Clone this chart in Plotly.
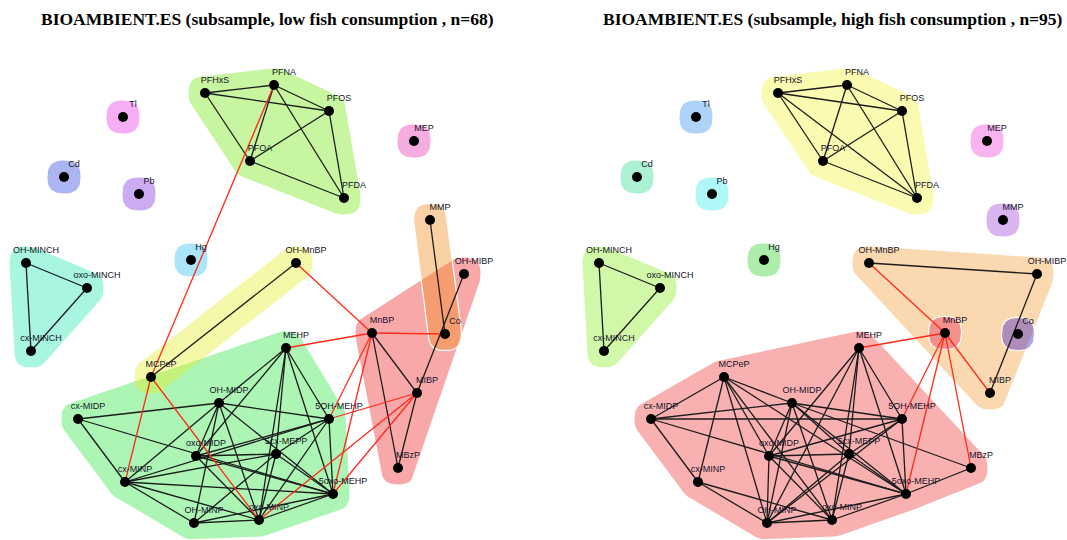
import numpy as np
import plotly.graph_objects as go

# ---------------------------------------------------------------------------
# Network layout (shared by both panels, in layout units)
# ---------------------------------------------------------------------------
nodes = ["PFHxS", "PFNA", "PFOS", "PFOA", "PFDA", "Tl", "MEP", "Cd", "Pb", "MMP",
         "Hg", "OH-MnBP", "OH-MIBP", "OH-MINCH", "oxo-MINCH", "cx-MINCH", "MnBP",
         "Co", "MEHP", "MCPeP", "MIBP", "OH-MIDP", "cx-MIDP", "5OH-MEHP",
         "oxo-MIDP", "5cx-MEPP", "MBzP", "cx-MINP", "5oxo-MEHP", "OH-MINP",
         "oxo-MINP"]
layout_x = [205, 274, 329, 250, 344, 123, 414, 64, 139, 430,
            191, 296, 464, 26, 87, 31, 372,
            445, 286, 151, 417, 219, 78, 329,
            196, 276, 398, 125, 333, 194,
            259]
layout_y = [93, 85, 111, 161, 198, 117, 141, 177, 194, 220,
            260, 263, 274, 263, 288, 351, 333,
            334, 348, 377, 393, 403, 419, 419,
            456, 454, 468, 482, 494, 523,
            520]

titles = ["BIOAMBIENT.ES (subsample, low fish consumption , n=68)",
          "BIOAMBIENT.ES (subsample, high fish consumption , n=95)"]

PFAS = ["PFHxS", "PFNA", "PFOS", "PFOA", "PFDA"]
MINCH = ["OH-MINCH", "oxo-MINCH", "cx-MINCH"]

# ---------------------------------------------------------------------------
# Low fish consumption network
# ---------------------------------------------------------------------------
low_pos_edges = [
    ("PFHxS", "PFNA"), ("PFHxS", "PFOS"), ("PFHxS", "PFOA"), ("PFNA", "PFOS"),
    ("PFNA", "PFOA"), ("PFNA", "PFDA"), ("PFOS", "PFOA"), ("PFOS", "PFDA"),
    ("PFOA", "PFDA"),
    ("OH-MINCH", "oxo-MINCH"), ("OH-MINCH", "cx-MINCH"), ("oxo-MINCH", "cx-MINCH"),
    ("OH-MnBP", "MCPeP"), ("MMP", "Co"), ("OH-MIBP", "MIBP"),
    ("MnBP", "MIBP"), ("MnBP", "MBzP"), ("MIBP", "MBzP"),
    ("MEHP", "OH-MIDP"), ("MEHP", "oxo-MIDP"), ("MEHP", "5cx-MEPP"),
    ("MEHP", "oxo-MINP"), ("MEHP", "5oxo-MEHP"), ("MEHP", "5OH-MEHP"),
    ("OH-MIDP", "cx-MIDP"), ("OH-MIDP", "cx-MINP"), ("OH-MIDP", "oxo-MIDP"),
    ("OH-MIDP", "5OH-MEHP"), ("OH-MIDP", "5oxo-MEHP"), ("OH-MIDP", "OH-MINP"),
    ("OH-MIDP", "oxo-MINP"),
    ("cx-MIDP", "cx-MINP"), ("cx-MIDP", "5oxo-MEHP"),
    ("5OH-MEHP", "oxo-MIDP"), ("5OH-MEHP", "cx-MINP"), ("5OH-MEHP", "5cx-MEPP"),
    ("5OH-MEHP", "5oxo-MEHP"), ("5OH-MEHP", "oxo-MINP"),
    ("5cx-MEPP", "oxo-MIDP"), ("5cx-MEPP", "cx-MINP"), ("5cx-MEPP", "5oxo-MEHP"),
    ("5cx-MEPP", "oxo-MINP"), ("5cx-MEPP", "OH-MINP"),
    ("5oxo-MEHP", "cx-MINP"), ("5oxo-MEHP", "oxo-MIDP"), ("5oxo-MEHP", "oxo-MINP"),
    ("5oxo-MEHP", "OH-MINP"),
    ("oxo-MINP", "OH-MINP"), ("oxo-MINP", "cx-MINP"), ("oxo-MINP", "oxo-MIDP"),
    ("OH-MINP", "cx-MINP"),
]
low_neg_edges = [
    ("PFNA", "MCPeP"), ("OH-MnBP", "MnBP"), ("MnBP", "MEHP"), ("MnBP", "Co"),
    ("MnBP", "5OH-MEHP"), ("MnBP", "5oxo-MEHP"), ("MIBP", "5OH-MEHP"),
    ("MIBP", "5oxo-MEHP"), ("MIBP", "oxo-MINP"), ("MCPeP", "cx-MINP"),
    ("MCPeP", "oxo-MINP"),
]
low_groups = [
    (["MEHP", "OH-MIDP", "cx-MIDP", "5OH-MEHP", "oxo-MIDP", "5cx-MEPP", "cx-MINP",
      "5oxo-MEHP", "OH-MINP", "oxo-MINP"], "rgba(47,230,67,0.4)", None),
    (["OH-MnBP", "MCPeP"], "rgba(230,237,37,0.4)", None),
    (["OH-MIBP", "MnBP", "MIBP", "MBzP"], "rgba(237,37,37,0.4)", None),
    (["MMP", "Co"], "rgba(240,140,30,0.4)", "white"),
    (PFAS, "rgba(117,230,17,0.4)", None),
    (MINCH, "rgba(37,230,177,0.4)", None),
    (["Tl"], "rgba(230,43,230,0.38)", None),
    (["MEP"], "rgba(230,37,167,0.38)", None),
    (["Cd"], "rgba(37,57,217,0.38)", None),
    (["Pb"], "rgba(117,37,217,0.38)", None),
    (["Hg"], "rgba(37,187,237,0.38)", None),
]

# ---------------------------------------------------------------------------
# High fish consumption network
# ---------------------------------------------------------------------------
high_pos_edges = [
    ("PFHxS", "PFNA"), ("PFHxS", "PFOS"), ("PFHxS", "PFOA"), ("PFHxS", "PFDA"),
    ("PFNA", "PFOS"), ("PFNA", "PFOA"), ("PFNA", "PFDA"), ("PFOS", "PFOA"),
    ("PFOS", "PFDA"), ("PFOA", "PFDA"),
    ("OH-MINCH", "oxo-MINCH"), ("OH-MINCH", "cx-MINCH"), ("oxo-MINCH", "cx-MINCH"),
    ("OH-MnBP", "OH-MIBP"), ("OH-MIBP", "MIBP"),
    ("MCPeP", "cx-MIDP"), ("MCPeP", "cx-MINP"), ("MCPeP", "OH-MINP"),
    ("MCPeP", "oxo-MIDP"), ("MCPeP", "oxo-MINP"), ("MCPeP", "5oxo-MEHP"),
    ("MCPeP", "OH-MIDP"),
    ("cx-MIDP", "OH-MIDP"), ("cx-MIDP", "5OH-MEHP"), ("cx-MIDP", "5oxo-MEHP"),
    ("cx-MIDP", "cx-MINP"),
    ("cx-MINP", "OH-MINP"), ("cx-MINP", "oxo-MINP"),
    ("OH-MIDP", "oxo-MIDP"), ("OH-MIDP", "OH-MINP"), ("OH-MIDP", "oxo-MINP"),
    ("OH-MIDP", "5cx-MEPP"), ("OH-MIDP", "5OH-MEHP"), ("OH-MIDP", "5oxo-MEHP"),
    ("OH-MIDP", "MBzP"),
    ("oxo-MIDP", "5OH-MEHP"), ("oxo-MIDP", "5cx-MEPP"), ("oxo-MIDP", "OH-MINP"),
    ("oxo-MIDP", "oxo-MINP"), ("oxo-MIDP", "5oxo-MEHP"), ("oxo-MIDP", "MEHP"),
    ("MEHP", "OH-MINP"), ("MEHP", "oxo-MINP"), ("MEHP", "5cx-MEPP"),
    ("MEHP", "5OH-MEHP"), ("MEHP", "5oxo-MEHP"),
    ("5OH-MEHP", "5cx-MEPP"), ("5OH-MEHP", "OH-MINP"), ("5OH-MEHP", "5oxo-MEHP"),
    ("5cx-MEPP", "OH-MINP"), ("5cx-MEPP", "oxo-MINP"), ("5cx-MEPP", "5oxo-MEHP"),
    ("5oxo-MEHP", "MBzP"), ("5oxo-MEHP", "oxo-MINP"), ("5oxo-MEHP", "OH-MINP"),
    ("OH-MINP", "oxo-MINP"),
]
high_neg_edges = [
    ("OH-MnBP", "MnBP"), ("MnBP", "MEHP"), ("MnBP", "MIBP"), ("MnBP", "5OH-MEHP"),
    ("MnBP", "5oxo-MEHP"), ("MnBP", "MBzP"),
]
high_groups = [
    (["MEHP", "MCPeP", "OH-MIDP", "cx-MIDP", "5OH-MEHP", "oxo-MIDP", "5cx-MEPP",
      "cx-MINP", "5oxo-MEHP", "OH-MINP", "oxo-MINP", "MBzP"], "rgba(237,57,57,0.4)", None),
    (["OH-MnBP", "OH-MIBP", "MIBP"], "rgba(242,157,57,0.4)", None),
    (["MnBP"], "rgba(230,40,90,0.4)", "white"),
    (["Co"], "rgba(60,30,200,0.4)", "white"),
    (PFAS, "rgba(242,242,57,0.4)", None),
    (MINCH, "rgba(137,237,37,0.4)", None),
    (["Tl"], "rgba(43,137,237,0.38)", None),
    (["MEP"], "rgba(237,57,217,0.38)", None),
    (["Cd"], "rgba(37,217,137,0.38)", None),
    (["Pb"], "rgba(43,237,237,0.38)", None),
    (["Hg"], "rgba(37,207,37,0.38)", None),
    (["MMP"], "rgba(157,57,217,0.38)", None),
]

pos = {n: (x, y) for n, x, y in zip(nodes, layout_x, layout_y)}


def convex_hull(pts):
    pts = sorted(set(map(tuple, pts)))
    if len(pts) < 3:
        return pts

    def cross(o, a, b):
        return (a[0] - o[0]) * (b[1] - o[1]) - (a[1] - o[1]) * (b[0] - o[0])

    lower, upper = [], []
    for p in pts:
        while len(lower) >= 2 and cross(lower[-2], lower[-1], p) <= 0:
            lower.pop()
        lower.append(p)
    for p in reversed(pts):
        while len(upper) >= 2 and cross(upper[-2], upper[-1], p) <= 0:
            upper.pop()
        upper.append(p)
    return lower[:-1] + upper[:-1]


def group_outline(members, r=16.5, power=2.6, n=72):
    """Rounded hull around a set of vertices (squircle padding per vertex)."""
    t = np.linspace(0, 2 * np.pi, n, endpoint=False)
    c, s = np.cos(t), np.sin(t)
    ux = np.sign(c) * np.abs(c) ** (2.0 / power)
    uy = np.sign(s) * np.abs(s) ** (2.0 / power)
    pts = []
    for m in members:
        x0, y0 = pos[m]
        pts += [(round(x0 + r * a, 3), round(y0 + r * b, 3)) for a, b in zip(ux, uy)]
    hull = convex_hull(pts)
    hx = [p[0] for p in hull] + [hull[0][0]]
    hy = [p[1] for p in hull] + [hull[0][1]]
    return hx, hy


def edge_xy(edges):
    xs, ys = [], []
    for a, b in edges:
        xs += [pos[a][0], pos[b][0], None]
        ys += [pos[a][1], pos[b][1], None]
    return xs, ys


fig = go.Figure()

panels = [("x", low_groups, low_pos_edges, low_neg_edges),
          ("x2", high_groups, high_pos_edges, high_neg_edges)]

for xref, groups, pos_edges, neg_edges in panels:
    for members, fill, border in groups:
        hx, hy = group_outline(members)
        fig.add_trace(go.Scatter(
            x=hx, y=hy, xaxis=xref, yaxis="y", mode="lines", fill="toself",
            fillcolor=fill,
            line=dict(color=border if border else "rgba(0,0,0,0)",
                      width=1.2 if border else 0),
            hoverinfo="skip", showlegend=False))
    ex, ey = edge_xy(pos_edges)
    fig.add_trace(go.Scatter(x=ex, y=ey, xaxis=xref, yaxis="y", mode="lines",
                             line=dict(color="#1c1c1c", width=1.3),
                             hoverinfo="skip", showlegend=False))
    ex, ey = edge_xy(neg_edges)
    fig.add_trace(go.Scatter(x=ex, y=ey, xaxis=xref, yaxis="y", mode="lines",
                             line=dict(color="#ff2a1a", width=1.3),
                             hoverinfo="skip", showlegend=False))
    fig.add_trace(go.Scatter(x=layout_x, y=layout_y, xaxis=xref, yaxis="y",
                             mode="markers",
                             marker=dict(color="black", size=10, line=dict(width=0)),
                             hoverinfo="text", text=nodes, showlegend=False))
    fig.add_trace(go.Scatter(x=[v + 10 for v in layout_x],
                             y=[v - 12 for v in layout_y],
                             xaxis=xref, yaxis="y", mode="text", text=nodes,
                             textposition="middle center",
                             textfont=dict(family="Liberation Sans", size=9,
                                           color="#141428"),
                             hoverinfo="skip", showlegend=False))

title_x = [267 / 1067, 833 / 1067]
for t, tx in zip(titles, title_x):
    fig.add_annotation(text="<b>" + t + "</b>", xref="paper", yref="paper",
                       x=tx, y=1 - 19 / 540,
                       xanchor="center", yanchor="middle", showarrow=False,
                       font=dict(family="Liberation Serif", size=17.5, color="black"))

axis_off = dict(visible=False, showgrid=False, zeroline=False, fixedrange=True)
fig.update_layout(
    width=1067, height=540,
    margin=dict(l=0, r=0, t=0, b=0),
    paper_bgcolor="white", plot_bgcolor="white",
    xaxis=dict(domain=[0, 0.5], range=[0, 533.5], **axis_off),
    xaxis2=dict(domain=[0.5, 1], range=[-39.5, 494], anchor="y", **axis_off),
    yaxis=dict(domain=[0, 1], range=[540, 0], **axis_off),
    showlegend=False,
)

fig.write_html("out.html")
